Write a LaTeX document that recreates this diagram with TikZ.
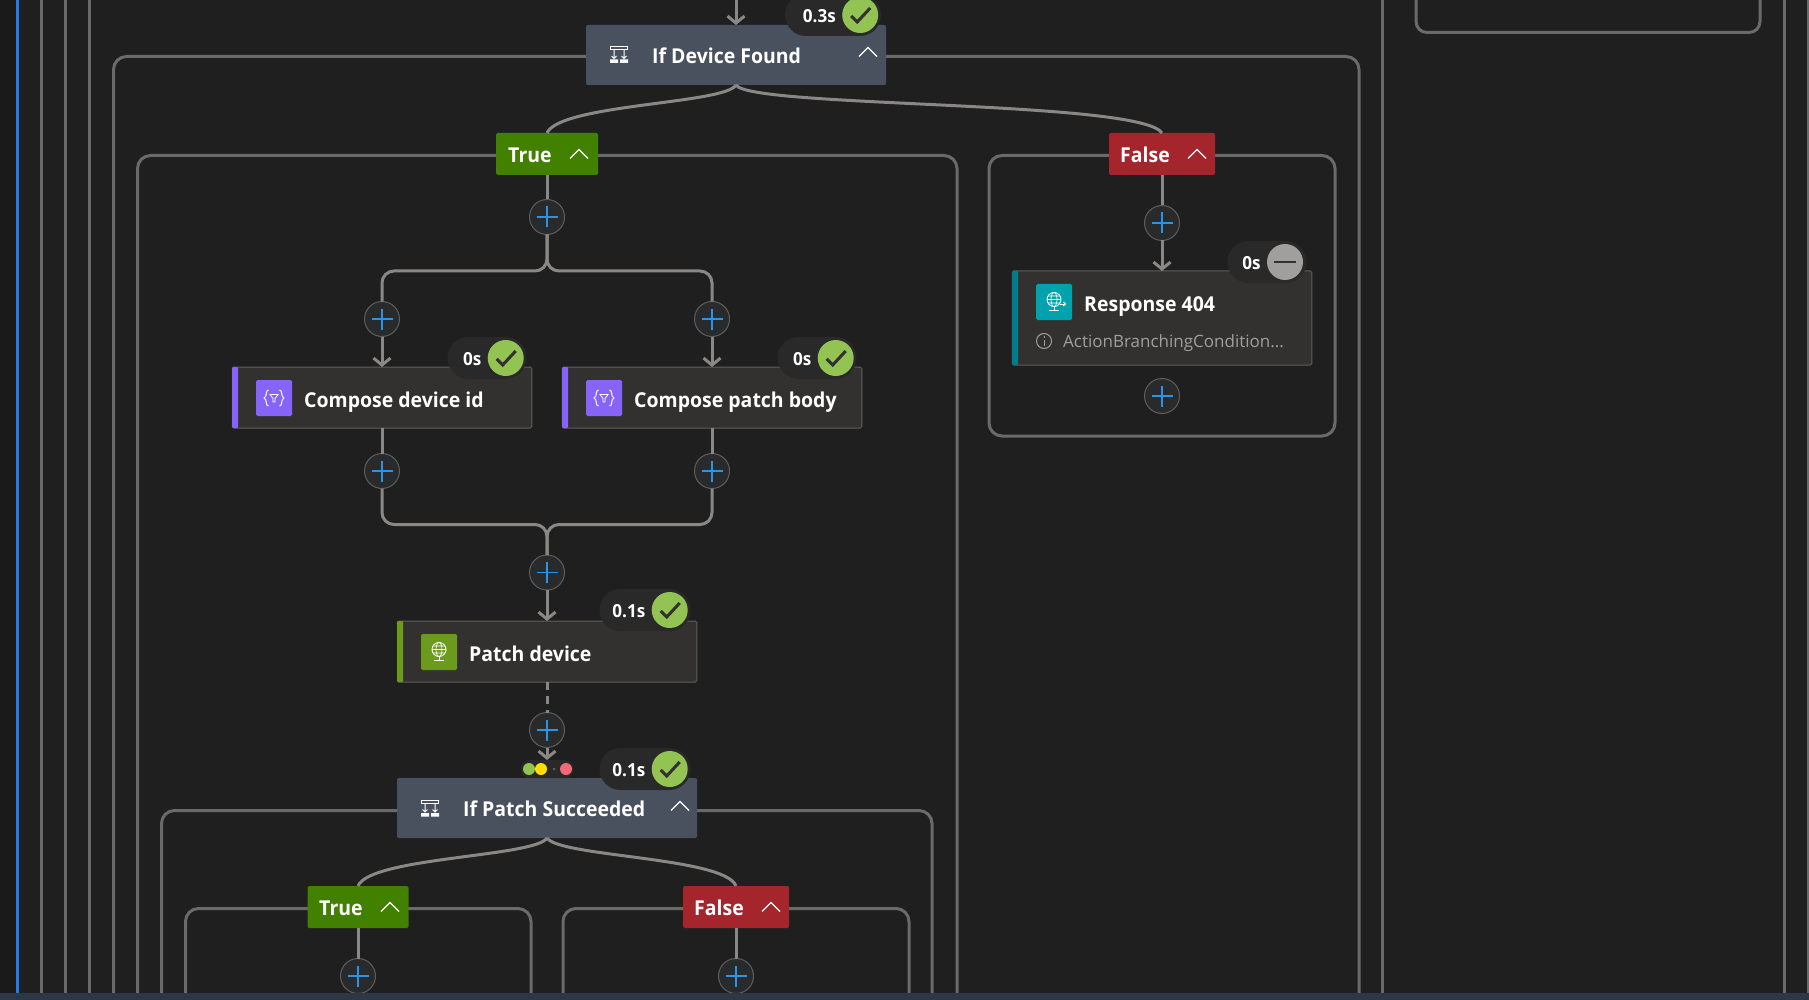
\documentclass[tikz,border=0pt]{standalone}
\usepackage{fontspec}
\setmainfont{Open Sans}
\newfontfamily\lblfont{Open Sans}[UprightFont=* Bold,FakeStretch=0.95]
\usetikzlibrary{arrows.meta}
\definecolor{bg}{HTML}{1F1F1F}
\definecolor{bgdark}{HTML}{1A1A1A}
\definecolor{barc}{HTML}{2B3947}
\definecolor{frame}{HTML}{6A6A6A}
\definecolor{conn}{HTML}{8A8886}
\definecolor{cardfill}{HTML}{323130}
\definecolor{cardline}{HTML}{5F5E5C}
\definecolor{condfill}{HTML}{4A515E}
\definecolor{truec}{HTML}{428000}
\definecolor{falsec}{HTML}{A4262C}
\definecolor{plusblue}{HTML}{2B93E8}
\definecolor{plusfill}{HTML}{292A2B}
\definecolor{okc}{HTML}{92C353}
\definecolor{skipc}{HTML}{A19F9D}
\definecolor{pillc}{HTML}{292929}
\definecolor{purplec}{HTML}{8764F8}
\definecolor{oliveb}{HTML}{6C9A1C}
\definecolor{tealb}{HTML}{00A2AD}
\definecolor{tealbar}{HTML}{007D8C}
\definecolor{runblue}{HTML}{1E7DEB}
\definecolor{doty}{HTML}{FFDD00}
\definecolor{dotr}{HTML}{F46978}
\tikzset{
  x=1pt,y=-1pt,
  framebox/.style={draw=frame,line width=3pt,rounded corners=13pt},
  scopeline/.style={draw=frame,line width=3pt},
  conline/.style={draw=conn,line width=3pt},
  arrowline/.style={conline,-{Straight Barb[length=7pt,width=17pt,line width=3pt]}},
  card/.style={draw=cardline,line width=1pt,fill=cardfill,rounded corners=1.5pt,minimum width=299.5pt,inner sep=0pt,outer sep=0pt},
  condcard/.style={fill=condfill,rounded corners=2pt,minimum width=300pt,minimum height=60pt,inner sep=0pt,outer sep=0pt},
  tag/.style={rounded corners=1.5pt,minimum height=42pt,inner sep=0pt,outer sep=0pt},
  plusnode/.style={circle,draw=cardline,line width=1pt,fill=plusfill,minimum size=35pt,inner sep=0pt,outer sep=0pt,
    path picture={\draw[plusblue,line width=1.7pt] (path picture bounding box.center) ++(-10.5pt,0) -- ++(21pt,0) (path picture bounding box.center) ++(0,-10.5pt) -- ++(0,21pt);}},
  label/.style={text=white,font=\lblfont\fontsize{20.5}{24}\selectfont,inner sep=0pt,anchor=base west},
  timetext/.style={text=white,font=\lblfont\fontsize{18}{22}\selectfont,inner sep=0pt},
  pill/.style={fill=pillc,rounded corners=21pt,minimum height=42pt,inner sep=0pt},
  okdot/.style={circle,fill=okc,minimum size=36pt,inner sep=0pt},
  skipdot/.style={circle,fill=skipc,minimum size=36pt,inner sep=0pt},
  checkmark/.style={draw=cardfill,line width=3pt},
  chevron/.style={draw=white,line width=1.3pt},
  iconbox/.style={rounded corners=1.5pt,minimum size=36pt,inner sep=0pt},
  iconline/.style={draw=white,line width=1pt},
  smalldot/.style={circle,minimum size=12pt,inner sep=0pt},
}
% #1 name, #2 pill centre x, #3 y, #4 pill width, #5 text
\newcommand{\okbadge}[5]{%
  \node[pill,minimum width=#4pt] (#1p) at (#2,#3) {};
  \node[okdot] (#1d) at ([xshift=-21pt]#1p.east) {};
  \draw[checkmark] ([shift={(-9pt,-1pt)}]#1d.center) -- ([shift={(-3pt,-7pt)}]#1d.center) -- ([shift={(10pt,7pt)}]#1d.center);
  \node[timetext,anchor=base east] (#1t) at ([shift={(-6pt,-7.2pt)}]#1d.west) {#5};
}
\newcommand{\chev}[2]{\draw[chevron] (#1-9,#2+4.5) -- (#1,#2-4.5) -- (#1+9,#2+4.5);}
\newcommand{\condicon}[2]{%
  \begin{scope}[shift={(#1,#2)}]
    \draw[iconline] (-8.5,-8) rectangle (8.5,-4.5);
    \draw[iconline] (-5,-4.5) -- (-5,4) (-7.5,1.5) -- (-5,4) -- (-2.5,1.5);
    \draw[iconline] (5,-4.5) -- (5,4) (2.5,1.5) -- (5,4) -- (7.5,1.5);
    \fill[white] (-9,5) rectangle (-1,8.5) (1,5) rectangle (9,8.5);
  \end{scope}}
\newcommand{\composeicon}[2]{%
  \begin{scope}[shift={(#1,#2)}]
    \draw[iconline,line width=1pt] (-5.5,-8) .. controls (-9,-8) and (-6.5,-1) .. (-10,0) .. controls (-6.5,1) and (-9,8) .. (-5.5,8);
    \draw[iconline,line width=1pt] (5.5,-8) .. controls (9,-8) and (6.5,-1) .. (10,0) .. controls (6.5,1) and (9,8) .. (5.5,8);
    \draw[iconline,line width=.8pt] (-4,-3.5) -- (4,-3.5) -- (1,.5) -- (1,4) -- (-1,4) -- (-1,.5) -- cycle;
  \end{scope}}
\newcommand{\globeicon}[2]{%
  \begin{scope}[shift={(#1,#2)}]
    \draw[iconline,line width=.9pt] (0,-2.5) circle (7);
    \draw[iconline,line width=.7pt] (0,-2.5) ellipse (3 and 7) (-7,-2.5) -- (7,-2.5) (-6,-6) -- (6,-6) (-6,1) -- (6,1);
    \draw[iconline,line width=.9pt] (0,4.5) -- (0,7.5) (-5,8.5) -- (5,8.5);
  \end{scope}}
\begin{document}
\begin{tikzpicture}
\useasboundingbox (0,0) rectangle (1809,1000);
\fill[bg] (0,0) rectangle (1809,1000);
\fill[bgdark] (0,0) rectangle (16,1000);
% outer scope lines
\draw[scopeline] (41.5,0) -- (41.5,994) (65.5,0) -- (65.5,994) (89.5,0) -- (89.5,994)
  (1382,0) -- (1382,994) (1784,0) -- (1784,994) (1808,0) -- (1808,994);
\draw[scopeline,rounded corners=11pt] (1416,-10) -- (1416,32.5) -- (1760,32.5) -- (1760,-10);
\draw[draw=runblue,line width=3pt] (17.5,0) -- (17.5,994);
% frames
\draw[framebox] (113.5,1010) -- (113.5,56.5) -- (1359,56.5) -- (1359,1010);
\draw[framebox] (137.5,1010) -- (137.5,155.5) -- (957,155.5) -- (957,1010);
\draw[framebox] (989,155.5) rectangle (1335,436);
\draw[framebox] (161.5,1010) -- (161.5,810.5) -- (932,810.5) -- (932,1010);
\draw[framebox] (185.5,1010) -- (185.5,908.5) -- (531,908.5) -- (531,1010);
\draw[framebox] (563,1010) -- (563,908.5) -- (909,908.5) -- (909,1010);
% cards and tags
\coordinate (top) at (736,0);
\coordinate (j1) at (547,271);
\coordinate (j2) at (547,524.5);
\node[condcard] (devfound) at (736,55) {};
\node[tag,fill=truec,minimum width=102pt] (t1) at (547,154) {};
\node[tag,fill=falsec,minimum width=106pt] (f1) at (1162,154) {};
\node[plusnode] (p1) at (547,217) {};
\node[plusnode] (p2) at (382,319) {};
\node[plusnode] (p3) at (712,319) {};
\node[card,minimum height=61pt] (devid) at (382,397.5) {};
\node[card,minimum height=61pt] (patchbody) at (712,397.5) {};
\node[plusnode] (p4) at (382,471) {};
\node[plusnode] (p5) at (712,471) {};
\node[plusnode] (p6) at (547,572.5) {};
\node[card,minimum height=61pt] (patch) at (547,651.5) {};
\node[plusnode] (p7) at (547,730) {};
\node[condcard] (patchif) at (547,808) {};
\node[tag,fill=truec,minimum width=101pt] (t2) at (358,907) {};
\node[tag,fill=falsec,minimum width=106pt] (f2) at (736,907) {};
\node[plusnode] (p8) at (358,976) {};
\node[plusnode] (p9) at (736,976) {};
\node[plusnode] (p10) at (1162,223) {};
\node[card,minimum height=94pt] (resp) at (1162,318) {};
\node[plusnode] (p11) at (1162,396) {};
\node[fill=pillc,rounded corners=9pt,minimum width=53pt,minimum height=18pt,inner sep=0pt,outer sep=0pt] (dotpill) at (547,769) {};
% connectors
\draw[arrowline] (top) -- (devfound.north);
\draw[conline] (devfound.south) .. controls (725,104) and (560,104) .. (t1.north);
\draw[conline] (devfound.south) .. controls (750,108) and (1140,100) .. (f1.north);
\draw[conline] (t1.south) -- (p1.north);
\draw[conline] (f1.south) -- (p10.north);
\draw[arrowline] (p10.south) -- (resp.north);
\draw[conline,rounded corners=12pt] (p1.south) -- (j1) -| (p2.north);
\draw[conline,rounded corners=12pt] (p1.south) -- (j1) -| (p3.north);
\draw[arrowline] (p2.south) -- (devid.north);
\draw[arrowline] (p3.south) -- (patchbody.north);
\draw[conline] (devid.south) -- (p4.north);
\draw[conline] (patchbody.south) -- (p5.north);
\draw[conline,rounded corners=12pt] (p4.south) |- (j2) -- (p6.north);
\draw[conline,rounded corners=12pt] (p5.south) |- (j2) -- (p6.north);
\draw[arrowline] (p6.south) -- (patch.north);
\draw[conline,dash pattern=on 8pt off 6pt] (patch.south) -- (p7.north);
\draw[arrowline] (p7.south) -- (dotpill.north);
\draw[conline] (patchif.south) .. controls (535,857) and (370,857) .. (t2.north);
\draw[conline] (patchif.south) .. controls (560,857) and (725,857) .. (f2.north);
\draw[conline] (t2.south) -- (p8.north);
\draw[conline] (f2.south) -- (p9.north);
% run-after dots
\node[smalldot,fill=okc] (dg) at (529,769) {};
\node[smalldot,fill=doty] (dy) at (541,769) {};
\node[circle,fill=conn!70!black,minimum size=3pt,inner sep=0pt] (dk) at (554,769) {};
\node[smalldot,fill=dotr] (dr) at (566,769) {};
% left bars
\fill[purplec,rounded corners=1pt] (232,367) rectangle (238,428);
\fill[purplec,rounded corners=1pt] (562,367) rectangle (568,428);
\fill[oliveb,rounded corners=1pt] (397,621) rectangle (403,682);
\fill[tealbar,rounded corners=1pt] (1012,271) rectangle (1018,365);
% labels
\node[label] (l1) at (652,63.3) {If Device Found};
\condicon{619}{54.5}
\chev{868}{52}
\node[label] (l2) at (508,162.7) {True};
\chev{579}{154}
\node[label] (l3) at (1120,162.7) {False};
\chev{1197}{154}
\node[iconbox,fill=purplec] (i1) at (274,398) {};
\composeicon{274}{398}
\node[label] (l4) at (304,407) {Compose device id};
\node[iconbox,fill=purplec] (i2) at (604,398) {};
\composeicon{604}{398}
\node[label] (l5) at (634,407) {Compose patch body};
\node[iconbox,fill=oliveb] (i3) at (439,652) {};
\globeicon{439}{652}
\node[label] (l6) at (469,661) {Patch device};
\condicon{430}{808}
\node[label] (l7) at (463,816.7) {If Patch Succeeded};
\chev{680}{806}
\node[label] (l8) at (319,915.7) {True};
\chev{390}{907}
\node[label] (l9) at (694,915.7) {False};
\chev{771}{907}
\node[iconbox,fill=tealb] (i4) at (1054,302) {};
\globeicon{1054}{302}
\draw[iconline,line width=.9pt,-{Straight Barb[length=2pt,width=4pt]}] (1060,304) -- (1066,304);
\node[label] (l10) at (1084,311) {Response 404};
\node[circle,draw=skipc,line width=1pt,minimum size=15pt,inner sep=0pt] (inf) at (1044,341) {};
\draw[skipc,line width=1pt] (1044,340) -- (1044,345.5) (1044,336) -- (1044,337.5);
\node[text=skipc,font=\fontsize{17}{20}\selectfont,inner sep=0pt,anchor=base west] (l11) at (1063,347.3) {ActionBranchingCondition...};
% badges
\okbadge{b1}{833}{15}{96}{0.3s}
\okbadge{b2}{487}{358}{79}{0s}
\okbadge{b3}{817}{358}{79}{0s}
\okbadge{b4}{645}{610}{91}{0.1s}
\okbadge{b5}{645}{769}{91}{0.1s}
\node[pill,minimum width=79pt] (b6p) at (1267,262) {};
\node[skipdot] (b6d) at (1285,262) {};
\draw[draw=cardfill,line width=2.5pt] ([xshift=-11pt]b6d.center) -- ([xshift=11pt]b6d.center);
\node[timetext,anchor=base east] (b6t) at ([shift={(-6pt,-7.2pt)}]b6d.west) {0s};
% bottom bar
\fill[barc] (0,993) rectangle (1809,1000);
\end{tikzpicture}
\end{document}
